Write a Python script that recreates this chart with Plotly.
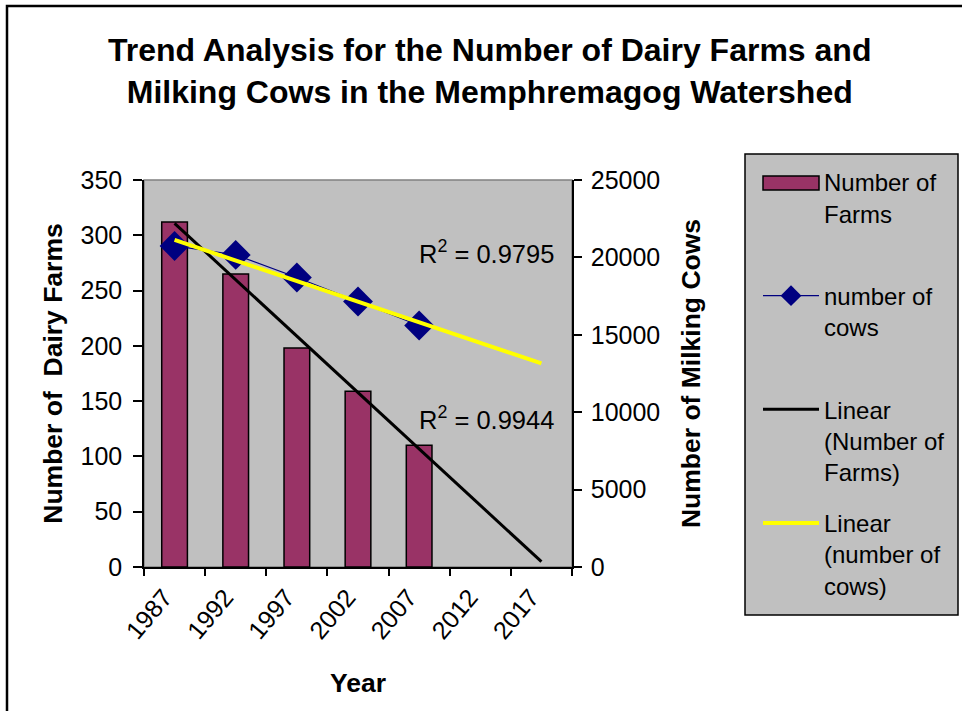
import numpy as np
import plotly.graph_objects as go

# ---- data ----
years = [1989.5, 1994.5, 1999.5, 2004.5, 2009.5]
farms = [312, 265, 198, 159, 110]
cows = [20740, 20160, 18700, 17150, 15600]
xtick_vals = [1987, 1992, 1997, 2002, 2007, 2012, 2017]
xtick_text = ["1987", "1992", "1997", "2002", "2007", "2012", "2017"]
xtick_marks = [1987, 1992, 1997, 2002, 2007, 2012, 2017, 2022]
r2_farms = "0.9944"
r2_cows = "0.9795"
forecast_years = 10

# ---- trendlines (least squares, like Excel) ----
yr = np.array(years)
trend_x = np.array([yr[0], yr[-1] + forecast_years])
pf = np.polyfit(yr, farms, 1)
pc = np.polyfit(yr, cows, 1)
trend_farms = np.polyval(pf, trend_x)
trend_cows = np.polyval(pc, trend_x)

FONT = "Arial, Liberation Sans, sans-serif"
BAR_COLOR = "#993366"

W, H = 962, 711
L, R, T, B = 144, 572, 180, 567
YR_PX = (R - L) / 35.0          # pixels per year on the x axis
LABEL_SHIFT = 20 / YR_PX        # Excel centres rotated labels under the tick


def px(x):
    return (x - L) / (R - L)


def py(y):
    return (B - y) / (B - T)


fig = go.Figure()

fig.add_trace(go.Bar(
    x=years, y=farms, name="Number of Farms", width=2.1,
    marker=dict(color=BAR_COLOR, line=dict(color="black", width=1.5)),
    legendgroup="a", yaxis="y", showlegend=False,
))
# legend entry for the bars (its wide swatch is drawn as a shape below)
fig.add_trace(go.Scatter(
    x=[None], y=[None], name="Number of<br>Farms<br>\u00a0", mode="lines",
    line=dict(color="rgba(0,0,0,0)", width=1), legendgroup="a", yaxis="y",
    hoverinfo="skip",
))
fig.add_trace(go.Scatter(
    x=years, y=cows, name="number of<br>cows<br>\u00a0", mode="lines+markers",
    line=dict(color="#000080", width=1.2),
    marker=dict(symbol="diamond", size=23, color="#000080"),
    legendgroup="b", yaxis="y2",
))
fig.add_trace(go.Scatter(
    x=trend_x, y=trend_farms, name="Linear<br>(Number of<br>Farms)", mode="lines",
    line=dict(color="black", width=3), legendgroup="c", yaxis="y",
))
fig.add_trace(go.Scatter(
    x=trend_x, y=trend_cows, name="Linear<br>(number of<br>cows)", mode="lines",
    line=dict(color="#FFFF00", width=4), legendgroup="d", yaxis="y2",
))
# invisible helper trace so the tick-mark axis is drawn
fig.add_trace(go.Scatter(
    x=[years[0]], y=[farms[0]], xaxis="x2", yaxis="y", mode="markers",
    marker=dict(opacity=0), showlegend=False, hoverinfo="skip",
))

tickfont = dict(family=FONT, size=25, color="black")
titlefont = dict(family=FONT, size=26.5, color="black")

fig.update_layout(
    width=W, height=H,
    margin=dict(l=L, r=W - R, t=T, b=H - B),
    paper_bgcolor="white",
    plot_bgcolor="#C0C0C0",
    font=dict(family=FONT, color="black"),
    barmode="overlay",
    xaxis=dict(
        range=[1987, 2022], tickvals=[v + LABEL_SHIFT for v in xtick_vals],
        ticktext=xtick_text,
        tickangle=-50, tickfont=tickfont, showgrid=False, zeroline=False,
        showline=True, linecolor="black", linewidth=1.5,
        ticks="", ticklabelstandoff=4,
        title=dict(text="<b>Year</b>", font=titlefont, standoff=30),
    ),
    xaxis2=dict(
        range=[1987, 2022], tickvals=xtick_marks, showticklabels=False,
        overlaying="x", anchor="y", side="bottom", showgrid=False, zeroline=False,
        showline=False, ticks="outside", ticklen=8, tickcolor="black", tickwidth=1.5,
    ),
    yaxis=dict(
        range=[0, 350], dtick=50, tickfont=tickfont, showgrid=False,
        zeroline=False, showline=True, linecolor="black", linewidth=1.5,
        ticks="outside", ticklen=9, tickcolor="black", tickwidth=1.5,
        ticklabelstandoff=6,
        title=dict(text="<b>Number of \u00a0Dairy Farms</b>", font=titlefont, standoff=10),
    ),
    yaxis2=dict(
        range=[0, 25000], dtick=5000, tickformat="d", tickfont=tickfont,
        overlaying="y", side="right", showgrid=False, zeroline=False,
        showline=True, linecolor="black", linewidth=1.5,
        ticks="outside", ticklen=8, tickcolor="black", tickwidth=1.5,
        ticklabelstandoff=4,
        title=dict(text="<b>Number of Milking Cows</b>", font=titlefont, standoff=22),
    ),
    legend=dict(
        x=px(758), y=py(160), xanchor="left", yanchor="top",
        bgcolor="rgba(0,0,0,0)", borderwidth=0,
        font=dict(family=FONT, size=24, color="black"),
        traceorder="grouped", tracegroupgap=17, itemwidth=56,
        valign="top", maxheight=620,
    ),
    showlegend=True,
    shapes=[
        # outer chart frame
        dict(type="rect", xref="paper", yref="paper",
             x0=px(7), x1=px(990), y0=py(740), y1=py(6),
             line=dict(color="black", width=2.5), fillcolor="rgba(0,0,0,0)", layer="below"),
        # plot area border (gray)
        dict(type="rect", xref="x domain", yref="y domain", x0=0, x1=1, y0=0, y1=1,
             line=dict(color="#808080", width=1.5), fillcolor="rgba(0,0,0,0)", layer="below"),
        # legend box
        dict(type="rect", xref="paper", yref="paper",
             x0=px(745), x1=px(958), y0=py(615), y1=py(154),
             line=dict(color="black", width=1.5), fillcolor="#C0C0C0", layer="below"),
        # legend swatch for the bars
        dict(type="rect", xref="paper", yref="paper",
             x0=px(763), x1=px(819), y0=py(190), y1=py(176),
             line=dict(color="black", width=1.5), fillcolor=BAR_COLOR, layer="above"),
    ],
    annotations=[
        dict(text="<b>Trend Analysis for the Number of Dairy Farms and<br>Milking Cows in the Memphremagog Watershed</b>",
             xref="paper", yref="paper", x=px(489), y=py(71), xanchor="center", yanchor="middle",
             showarrow=False, font=dict(family=FONT, size=32, color="black")),
        dict(text="R<sup>2</sup> = " + r2_cows, xref="paper", yref="paper",
             x=px(556), y=py(252), xanchor="right", yanchor="middle", showarrow=False,
             font=dict(family=FONT, size=25.5, color="black")),
        dict(text="R<sup>2</sup> = " + r2_farms, xref="paper", yref="paper",
             x=px(556), y=py(418), xanchor="right", yanchor="middle", showarrow=False,
             font=dict(family=FONT, size=25.5, color="black")),
    ],
)

fig.write_html(
    "out.html",
    config={"displayModeBar": False},
    post_script="document.body.style.margin='0px';document.body.style.overflow='hidden';",
)
